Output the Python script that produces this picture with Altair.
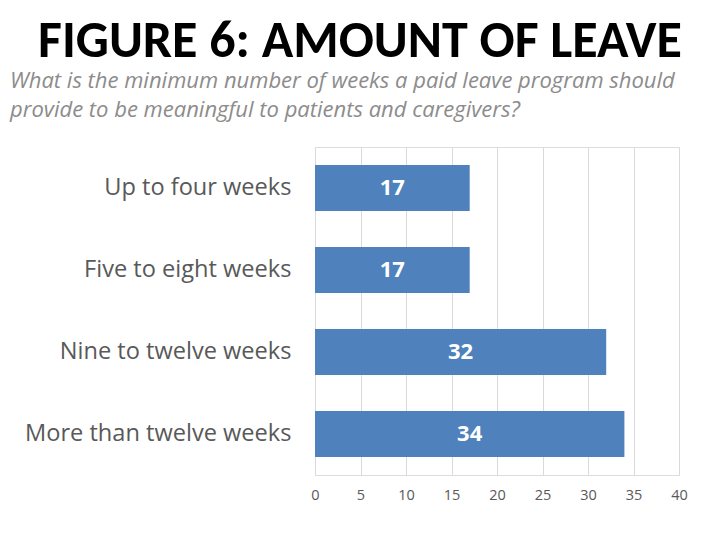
import altair as alt
import pandas as pd

categories = ["Up to four weeks", "Five to eight weeks", "Nine to twelve weeks", "More than twelve weeks"]
values = [17, 17, 32, 34]
x_ticks = [0, 5, 10, 15, 20, 25, 30, 35, 40]

title_text = "FIGURE 6: AMOUNT OF LEAVE"
subtitle_lines = ["What is the minimum number of weeks a paid leave program should",
                  "provide to be meaningful to patients and caregivers?"]

df = pd.DataFrame({"category": categories, "value": values})
df["mid"] = df["value"] / 2

TFONT = "Carlito, Lato, sans-serif"
FONT = "Open Sans, sans-serif"

y_enc = alt.Y("category:N", sort=categories, title=None,
              scale=alt.Scale(paddingInner=0.44, paddingOuter=0.22),
              axis=alt.Axis(labelFont=FONT, labelFontSize=23.6, labelColor="#595959", labelLimit=0,
                            labelPadding=24, ticks=False, domain=False, grid=False))
x_scale = alt.Scale(domain=[0, 40], nice=False)

bars = alt.Chart(df).mark_bar(color="#4F81BD").encode(
    x=alt.X("value:Q", scale=x_scale, title=None,
            axis=alt.Axis(values=x_ticks, labelFont=FONT, labelFontSize=14.5, labelColor="#595959",
                          labelFlush=False, ticks=False, domain=False, grid=True,
                          gridColor="#D9D9D9", labelPadding=13)),
    y=y_enc,
)

labels = alt.Chart(df).mark_text(color="white", font=FONT, fontWeight="bold", fontSize=22,
                                 baseline="middle", align="center").encode(
    x=alt.X("mid:Q", scale=x_scale),
    y=alt.Y("category:N", sort=categories),
    text=alt.Text("value:Q"),
)

one = alt.Data(values=[{"k": 1}])

title = alt.Chart(one).mark_text(
    text=title_text, font=TFONT, fontWeight="bold", fontSize=52, color="black", align="center",
    baseline="alphabetic").encode(x=alt.value(45), y=alt.value(-90))

subtitle = alt.Chart(one).mark_text(
    text=subtitle_lines, font=FONT, fontStyle="italic", fontSize=22, color="#8C8C8C", align="left",
    baseline="alphabetic", lineHeight=29).encode(x=alt.value(-305), y=alt.value(-59))

chart = alt.layer(bars, labels, title, subtitle).properties(
    width=364, height=328,
    autosize=alt.AutoSizeParams(type="none"),
    padding={"left": 307, "top": 139, "right": 33, "bottom": 57},
).configure_view(stroke=None).configure(background="white")

chart.save("out.html", embed_options={"renderer": "svg", "actions": False})
